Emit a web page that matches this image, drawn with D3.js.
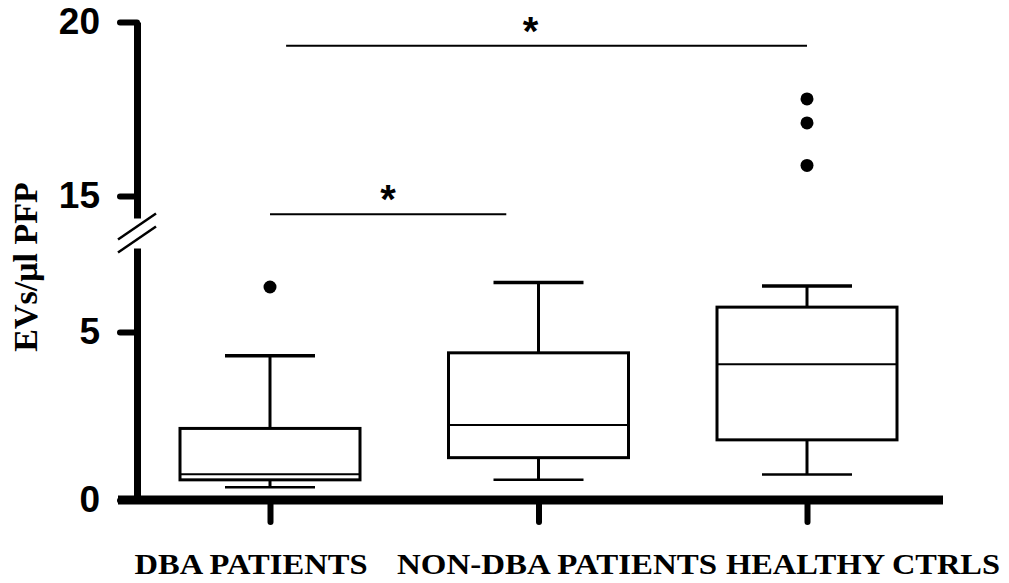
<!DOCTYPE html>
<html>
<head>
<meta charset="utf-8">
<script src="https://cdn.jsdelivr.net/npm/d3@7"></script>
<style>
  html, body { margin: 0; padding: 0; background: #fff; }
  #chart { width: 1009px; height: 583px; }
</style>
</head>
<body>
<div id="chart"></div>
<script>
const categories = ["DBA PATIENTS", "NON-DBA PATIENTS", "HEALTHY CTRLS"];
const whiskerLow = [0.38, 0.60, 0.76];
const q1 = [0.60, 1.26, 1.79];
const medians = [0.77, 2.23, 4.04];
const q3 = [2.13, 4.38, 5.74];
const whiskerHigh = [4.29, 6.47, 6.37];
const outliers = [[6.34], [], [15.88, 17.10, 17.79]];

const yTicksLow = [0, 5];
const yTicksHigh = [15, 20];
const yLabel = "EVs/\u03bcl PFP";

// significance bars: x given in category index units
const sigFrom = [0.06, 0];
const sigTo = [2, 0.88];
const sigY = [19.32, 14.48];
const sigStar = [0.97, 0.44];

const width = 1009;
const height = 583;
const axisX = 137;
const lowBottom = 500, lowTop = 248;
const highBottom = 218, highTop = 22;
const breakAt = 14.37;

const svg = d3.select("#chart").append("svg")
  .attr("width", width)
  .attr("height", height)
  .attr("viewBox", `0 0 ${width} ${height}`);

const x = d3.scalePoint().domain(categories).range([270, 807]);
const xIdx = d3.scaleLinear().domain([0, 2]).range([270, 807]);
const labelX = d3.scalePoint().domain(categories).range([251, 863]);
const labelW = [233, 320, 274];

const yLow = d3.scaleLinear().domain([0, 7.5]).range([lowBottom, lowTop]);
const yHigh = d3.scaleLinear().domain([breakAt, 20]).range([highBottom, highTop]);
const yPos = v => v >= breakAt ? yHigh(v) : yLow(v);

const boxes = categories.map((c, i) => ({
  cat: c, lo: whiskerLow[i], q1: q1[i], med: medians[i], q3: q3[i], hi: whiskerHigh[i], out: outliers[i]
}));

// y axis, two segments
function styleYAxis(g) {
  g.select(".domain").attr("stroke", "#000").attr("stroke-width", 7);
  g.selectAll(".tick line").attr("stroke", "#000").attr("stroke-width", 6).attr("stroke-linecap", "round");
  g.selectAll(".tick text")
    .attr("font-family", "'Liberation Sans', Arial, sans-serif")
    .attr("font-weight", "bold")
    .attr("font-size", 37)
    .attr("fill", "#000");
}

svg.append("g")
  .attr("transform", `translate(${axisX},0)`)
  .call(d3.axisLeft(yLow).tickValues(yTicksLow).tickFormat(d3.format("d"))
    .tickSize(17).tickSizeOuter(0).tickPadding(20))
  .call(styleYAxis);

svg.append("g")
  .attr("transform", `translate(${axisX},0)`)
  .call(d3.axisLeft(yHigh).tickValues(yTicksHigh).tickFormat(d3.format("d"))
    .tickSize(17).tickSizeOuter(0).tickPadding(20))
  .call(styleYAxis);

// axis break marks
const breakMid = (highBottom + lowTop) / 2;
[-6.5, 6.5].forEach(off => {
  svg.append("line")
    .attr("x1", axisX - 19).attr("y1", breakMid + off + 13)
    .attr("x2", axisX + 19).attr("y2", breakMid + off - 13)
    .attr("stroke", "#000").attr("stroke-width", 2.5);
});

// x axis
svg.append("g")
  .attr("transform", `translate(0,${yLow(0)})`)
  .call(d3.axisBottom(x).tickSize(22).tickSizeOuter(0).tickFormat(""))
  .call(g => g.select(".domain").remove())
  .call(g => g.selectAll(".tick line").attr("stroke", "#000").attr("stroke-width", 6).attr("stroke-linecap", "round"));

svg.append("line")
  .attr("x1", 118).attr("x2", 943)
  .attr("y1", yLow(0)).attr("y2", yLow(0))
  .attr("stroke", "#000").attr("stroke-width", 9);

svg.append("g").selectAll("text")
  .data(categories)
  .join("text")
  .attr("x", d => labelX(d))
  .attr("y", 574)
  .attr("text-anchor", "middle")
  .attr("font-family", "'Liberation Serif', 'Times New Roman', serif")
  .attr("font-weight", "bold")
  .attr("font-size", 29)
  .attr("textLength", (d, i) => labelW[i])
  .attr("lengthAdjust", "spacingAndGlyphs")
  .attr("fill", "#000")
  .text(d => d);

svg.append("text")
  .attr("transform", `translate(37,267) rotate(-90)`)
  .attr("text-anchor", "middle")
  .attr("font-family", "'Liberation Serif', 'Times New Roman', serif")
  .attr("font-weight", "bold")
  .attr("font-size", 34)
  .attr("fill", "#000")
  .text(yLabel);

// box plots
const boxW = 180, capW = 90;
const bg = svg.append("g").selectAll("g").data(boxes).join("g");

bg.append("line")
  .attr("x1", d => x(d.cat)).attr("x2", d => x(d.cat))
  .attr("y1", d => yLow(d.hi)).attr("y2", d => yLow(d.q3))
  .attr("stroke", "#000").attr("stroke-width", 3);
bg.append("line")
  .attr("x1", d => x(d.cat)).attr("x2", d => x(d.cat))
  .attr("y1", d => yLow(d.q1)).attr("y2", d => yLow(d.lo))
  .attr("stroke", "#000").attr("stroke-width", 3);
bg.append("line")
  .attr("x1", d => x(d.cat) - capW / 2).attr("x2", d => x(d.cat) + capW / 2)
  .attr("y1", d => yLow(d.hi)).attr("y2", d => yLow(d.hi))
  .attr("stroke", "#000").attr("stroke-width", 3.5);
bg.append("line")
  .attr("x1", d => x(d.cat) - capW / 2).attr("x2", d => x(d.cat) + capW / 2)
  .attr("y1", d => yLow(d.lo)).attr("y2", d => yLow(d.lo))
  .attr("stroke", "#000").attr("stroke-width", 2.5);
bg.append("rect")
  .attr("x", d => x(d.cat) - boxW / 2)
  .attr("width", boxW)
  .attr("y", d => yLow(d.q3))
  .attr("height", d => yLow(d.q1) - yLow(d.q3))
  .attr("fill", "#fff")
  .attr("stroke", "#000").attr("stroke-width", 3);
bg.append("line")
  .attr("x1", d => x(d.cat) - boxW / 2).attr("x2", d => x(d.cat) + boxW / 2)
  .attr("y1", d => yLow(d.med)).attr("y2", d => yLow(d.med))
  .attr("stroke", "#000").attr("stroke-width", 2);

bg.selectAll("circle")
  .data(d => d.out.map(v => ({cat: d.cat, v})))
  .join("circle")
  .attr("cx", d => x(d.cat))
  .attr("cy", d => yPos(d.v))
  .attr("r", 6.5)
  .attr("fill", "#000");

// significance bars
const sig = sigY.map((v, i) => ({from: sigFrom[i], to: sigTo[i], y: v, star: sigStar[i]}));
svg.append("g").selectAll("line")
  .data(sig)
  .join("line")
  .attr("x1", d => xIdx(d.from)).attr("x2", d => xIdx(d.to))
  .attr("y1", d => yHigh(d.y)).attr("y2", d => yHigh(d.y))
  .attr("stroke", "#000").attr("stroke-width", 2);
svg.append("g").selectAll("text")
  .data(sig)
  .join("text")
  .attr("x", d => xIdx(d.star))
  .attr("y", d => yHigh(d.y) - 1)
  .attr("text-anchor", "middle")
  .attr("font-family", "'Liberation Sans', Arial, sans-serif")
  .attr("font-weight", "bold")
  .attr("font-size", 40)
  .attr("fill", "#000")
  .text("*");
</script>
</body>
</html>
